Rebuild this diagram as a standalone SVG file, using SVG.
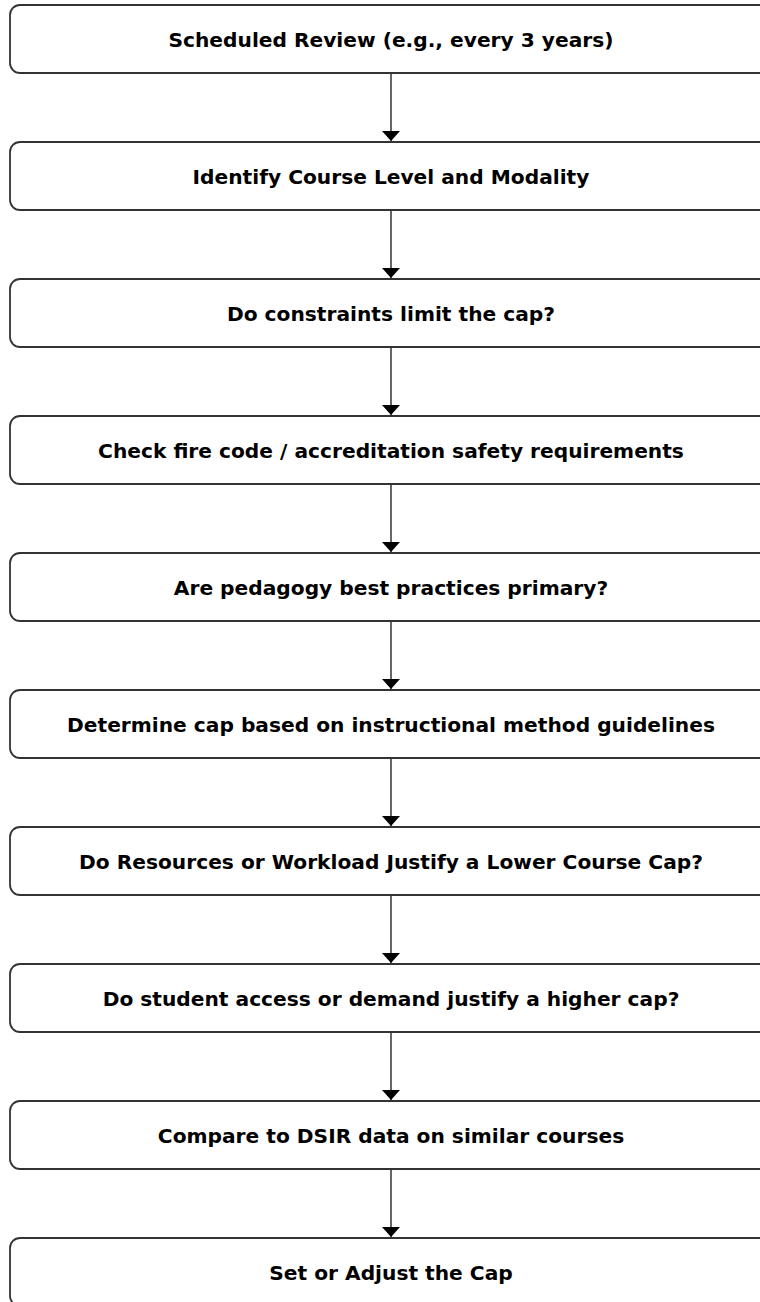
<svg xmlns="http://www.w3.org/2000/svg" width="760" height="1302" viewBox="0 0 760 1302">
  <style>
    .box { fill: #ffffff; stroke: #333333; stroke-width: 1.8; }
    .label { font-family: "DejaVu Sans", sans-serif; font-weight: bold; font-size: 20.2px; fill: #000000; text-anchor: middle; }
    .edge { stroke: #333333; stroke-width: 1.5; fill: none; marker-end: url(#arrow); }
  </style>
  <defs>
    <marker id="arrow" viewBox="0 0 10 18" refX="10" refY="9" markerWidth="10" markerHeight="18" markerUnits="userSpaceOnUse" orient="auto">
      <path d="M0,0 L10,9 L0,18 z" fill="#000000"/>
    </marker>
  </defs>
  <rect width="760" height="1302" fill="#ffffff"/>

  <g id="connectors">
    <line class="edge" x1="391" y1="73" x2="391" y2="141"/>
    <line class="edge" x1="391" y1="210" x2="391" y2="278"/>
    <line class="edge" x1="391" y1="347" x2="391" y2="415"/>
    <line class="edge" x1="391" y1="484" x2="391" y2="552"/>
    <line class="edge" x1="391" y1="621" x2="391" y2="689"/>
    <line class="edge" x1="391" y1="758" x2="391" y2="826"/>
    <line class="edge" x1="391" y1="895" x2="391" y2="963"/>
    <line class="edge" x1="391" y1="1032" x2="391" y2="1100"/>
    <line class="edge" x1="391" y1="1169" x2="391" y2="1237"/>
  </g>

  <g id="n1"><rect class="box" x="10" y="5" width="762" height="68" rx="10"/><text class="label" x="391" y="47">Scheduled Review (e.g., every 3 years)</text></g>
  <g id="n2"><rect class="box" x="10" y="142" width="762" height="68" rx="10"/><text class="label" x="391" y="184">Identify Course Level and Modality</text></g>
  <g id="n3"><rect class="box" x="10" y="279" width="762" height="68" rx="10"/><text class="label" x="391" y="321">Do constraints limit the cap?</text></g>
  <g id="n4"><rect class="box" x="10" y="416" width="762" height="68" rx="10"/><text class="label" x="391" y="458">Check fire code / accreditation safety requirements</text></g>
  <g id="n5"><rect class="box" x="10" y="553" width="762" height="68" rx="10"/><text class="label" x="391" y="595">Are pedagogy best practices primary?</text></g>
  <g id="n6"><rect class="box" x="10" y="690" width="762" height="68" rx="10"/><text class="label" x="391" y="732">Determine cap based on instructional method guidelines</text></g>
  <g id="n7"><rect class="box" x="10" y="827" width="762" height="68" rx="10"/><text class="label" x="391" y="869">Do Resources or Workload Justify a Lower Course Cap?</text></g>
  <g id="n8"><rect class="box" x="10" y="964" width="762" height="68" rx="10"/><text class="label" x="391" y="1006">Do student access or demand justify a higher cap?</text></g>
  <g id="n9"><rect class="box" x="10" y="1101" width="762" height="68" rx="10"/><text class="label" x="391" y="1143">Compare to DSIR data on similar courses</text></g>
  <g id="n10"><rect class="box" x="10" y="1238" width="762" height="68" rx="10"/><text class="label" x="391" y="1280">Set or Adjust the Cap</text></g>
</svg>
